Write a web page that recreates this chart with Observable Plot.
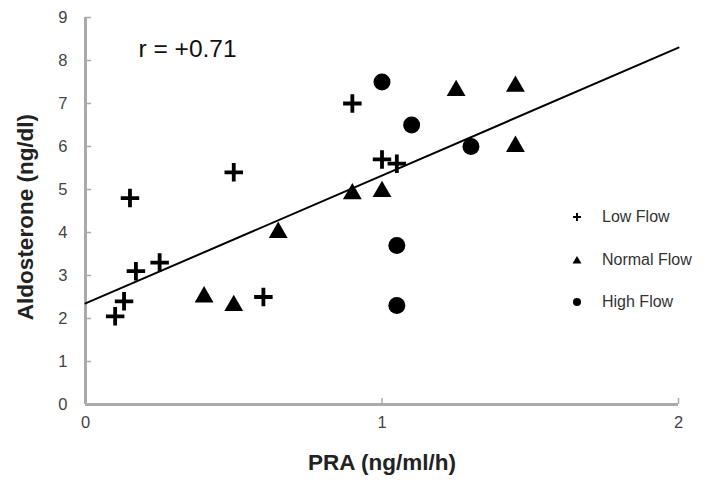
<!DOCTYPE html>
<html><head><meta charset="utf-8">
<script src="https://cdn.jsdelivr.net/npm/d3@7"></script>
<script src="https://cdn.jsdelivr.net/npm/@observablehq/plot@0.6"></script>
<style>
body{margin:0;background:#fff;font-family:"Liberation Sans",Arial,sans-serif}
#wrap{position:relative;width:708px;height:485px}
#legend{position:absolute;left:568px;top:196px;font-size:16px;color:#333}
.row{display:flex;align-items:center;height:42.5px}
.row svg{width:18px;height:18px;margin-right:16px;flex:none}
</style></head><body><div id="wrap"></div>
<script>
// Low Flow (plus)
const lowX = [0.10, 0.13, 0.17, 0.25, 0.60, 0.15, 0.50, 0.90, 1.00, 1.05];
const lowY = [2.05, 2.40, 3.10, 3.30, 2.50, 4.80, 5.40, 7.00, 5.70, 5.60];
// Normal Flow (triangle)
const normX = [0.40, 0.50, 0.65, 0.90, 1.00, 1.25, 1.45, 1.45];
const normY = [2.50, 2.30, 4.00, 4.90, 4.95, 7.30, 7.40, 6.00];
// High Flow (circle)
const highX = [1.00, 1.10, 1.30, 1.05, 1.05];
const highY = [7.50, 6.50, 6.00, 3.70, 2.30];
// regression line endpoints
const fitX = [0, 2];
const fitY = [2.35, 8.30];
const xTicks = [0, 1, 2];
const yTicks = [0, 1, 2, 3, 4, 5, 6, 7, 8, 9];
const groups = ["Low Flow", "Normal Flow", "High Flow"];
const rText = "r = +0.71";
const xTitle = "PRA (ng/ml/h)";
const yTitle = "Aldosterone (ng/dl)";

const zip = (xs, ys) => xs.map((x, i) => ({x, y: ys[i]}));
const low = zip(lowX, lowY), norm = zip(normX, normY), high = zip(highX, highY), fit = zip(fitX, fitY);

const axisColor = "#aaa";
const fmt = d3.format("d");
const chart = Plot.plot({
  width: 708, height: 485,
  marginLeft: 85, marginRight: 30, marginTop: 17, marginBottom: 81,
  x: {domain: [0, 2]},
  y: {domain: [0, 9]},
  style: {fontFamily: "'Liberation Sans', Arial, sans-serif", background: "white"},
  marks: [
    Plot.ruleX([0], {stroke: axisColor, strokeWidth: 3}),
    Plot.ruleY([0], {stroke: axisColor, strokeWidth: 3}),
    Plot.axisY(yTicks, {tickSize: 0, tickPadding: 18, fontSize: 16.5, fill: "#444", label: null, tickFormat: fmt}),
    Plot.axisY(yTicks, {tickSize: 6, dx: 6, stroke: axisColor, strokeWidth: 1.5, tickFormat: () => "", label: null}),
    Plot.axisX(xTicks, {tickSize: 0, tickPadding: 12, fontSize: 16.5, fill: "#444", label: null, tickFormat: fmt}),
    Plot.axisX(xTicks, {tickSize: 6, dy: -6, stroke: axisColor, strokeWidth: 1.5, tickFormat: () => "", label: null}),
    Plot.line(fit, {x: "x", y: "y", stroke: "#000", strokeWidth: 2}),
    Plot.dot(low, {x: "x", y: "y", symbol: "plus", r: 6, stroke: "#000", strokeWidth: 3.8}),
    Plot.dot(norm, {x: "x", y: "y", symbol: "triangle", r: 7, fill: "#000", stroke: "none"}),
    Plot.dot(high, {x: "x", y: "y", symbol: "circle", r: 8.5, fill: "#000", stroke: "none"}),
    Plot.text([rText], {frameAnchor: "top-left", dx: 53, dy: 32, textAnchor: "start", lineAnchor: "middle", fontSize: 24.5, fill: "#111"}),
    Plot.text([xTitle], {frameAnchor: "bottom", dy: 58, textAnchor: "middle", lineAnchor: "middle", fontSize: 22.5, fontWeight: "bold", fill: "#222"}),
    Plot.text([yTitle], {frameAnchor: "left", dx: -60, dy: 6, rotate: -90, textAnchor: "middle", lineAnchor: "middle", fontSize: 22.5, fontWeight: "bold", fill: "#222"})
  ]
});

const wrap = document.getElementById("wrap");
wrap.appendChild(chart);
const legend = document.createElement("div");
legend.id = "legend";
const icons = [
  '<svg viewBox="-9 -9 18 18"><path d="M-4,0H4M0,-4V4" stroke="#000" stroke-width="2"/></svg>',
  '<svg viewBox="-9 -9 18 18"><path d="M0,-4L4.5,3.5H-4.5Z" fill="#000"/></svg>',
  '<svg viewBox="-9 -9 18 18"><circle r="4" fill="#000"/></svg>'
];
groups.forEach((g, i) => {
  const row = document.createElement("div");
  row.className = "row";
  row.innerHTML = icons[i] + "<span>" + g + "</span>";
  legend.appendChild(row);
});
wrap.appendChild(legend);
</script>
</body></html>
